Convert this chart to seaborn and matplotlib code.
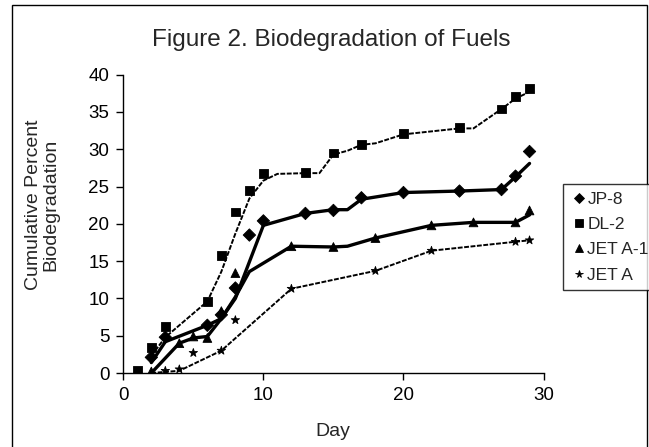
import matplotlib
matplotlib.use("Agg")
import matplotlib.pyplot as plt
from matplotlib.patches import Rectangle
import seaborn as sns
import pandas as pd

# Measured points (markers)
fuels = ["JP-8", "DL-2", "JET A-1", "JET A"]

jp8_days = [2, 3, 6, 7, 8, 9, 10, 13, 15, 17, 20, 24, 27, 28, 29]
jp8_vals = [2.1, 4.8, 6.4, 7.8, 11.4, 18.5, 20.4, 21.4, 21.8, 23.5, 24.2, 24.4, 24.6, 26.4, 29.7]

dl2_days = [1, 2, 3, 6, 7, 8, 9, 10, 13, 15, 17, 20, 24, 27, 28, 29]
dl2_vals = [0.3, 3.4, 6.2, 9.6, 15.8, 21.6, 24.5, 26.8, 26.9, 29.5, 30.6, 32.1, 32.9, 35.4, 37.1, 38.2]

jeta1_days = [2, 4, 5, 6, 7, 8, 12, 15, 18, 22, 25, 28, 29]
jeta1_vals = [0.2, 4.0, 4.9, 4.7, 8.3, 13.4, 17.0, 16.9, 18.1, 19.8, 20.2, 20.2, 21.8]

jeta_days = [3, 4, 5, 7, 8, 12, 18, 22, 28, 29]
jeta_vals = [0.3, 0.5, 2.7, 3.0, 7.1, 11.3, 13.7, 16.4, 17.6, 17.8]

# Trend lines as drawn in the chart
jp8_line_days = [2, 3, 6, 7, 8, 10, 13, 15, 16, 17, 20, 24, 27, 28, 29]
jp8_line_vals = [1.4, 4.2, 6.4, 7.3, 10.0, 19.8, 21.4, 21.9, 21.9, 23.3, 24.2, 24.4, 24.6, 26.3, 28.1]

dl2_line_days = [2, 3, 6, 7, 8, 9, 10, 11, 13, 14, 15, 16, 17, 18, 20, 24, 25, 27, 28, 29]
dl2_line_vals = [2.3, 4.8, 9.6, 13.6, 18.7, 23.4, 25.8, 26.7, 26.8, 26.8, 29.3, 29.8, 30.6, 30.8,
                 32.0, 32.8, 32.8, 35.4, 36.8, 37.7]

jeta1_line_days = [2, 4, 5, 6, 7, 8, 9, 12, 15, 16, 18, 22, 25, 28, 29]
jeta1_line_vals = [0.0, 4.0, 4.7, 4.9, 7.3, 10.2, 13.6, 17.0, 16.9, 17.0, 18.1, 19.8, 20.2, 20.2, 21.2]

jeta_line_days = [2, 4, 7, 12, 18, 22, 28, 29]
jeta_line_vals = [0.0, 0.3, 3.0, 11.3, 13.7, 16.4, 17.6, 17.8]

yticks = [0, 5, 10, 15, 20, 25, 30, 35, 40]
xticks = [0, 10, 20, 30]

pts = pd.concat([
    pd.DataFrame({"Day": jp8_days, "Value": jp8_vals, "Fuel": "JP-8"}),
    pd.DataFrame({"Day": dl2_days, "Value": dl2_vals, "Fuel": "DL-2"}),
    pd.DataFrame({"Day": jeta1_days, "Value": jeta1_vals, "Fuel": "JET A-1"}),
    pd.DataFrame({"Day": jeta_days, "Value": jeta_vals, "Fuel": "JET A"}),
], ignore_index=True)

lines = pd.concat([
    pd.DataFrame({"Day": jp8_line_days, "Value": jp8_line_vals, "Fuel": "JP-8"}),
    pd.DataFrame({"Day": dl2_line_days, "Value": dl2_line_vals, "Fuel": "DL-2"}),
    pd.DataFrame({"Day": jeta1_line_days, "Value": jeta1_line_vals, "Fuel": "JET A-1"}),
    pd.DataFrame({"Day": jeta_line_days, "Value": jeta_line_vals, "Fuel": "JET A"}),
], ignore_index=True)

sns.set_style("white")
plt.rcParams["font.family"] = ["Liberation Sans", "DejaVu Sans"]

fig = plt.figure(figsize=(6.49, 4.47), dpi=100)
ax = fig.add_axes([0.19, 0.1655, 0.6475, 0.6674])

sns.lineplot(data=lines, x="Day", y="Value", style="Fuel", size="Fuel",
             sizes={"JP-8": 2.4, "DL-2": 1.4, "JET A-1": 2.4, "JET A": 1.4},
             dashes={"JP-8": "", "DL-2": (2.5, 0.8), "JET A-1": "", "JET A": (2.5, 0.8)},
             color="black", estimator=None, sort=True, legend=False, ax=ax)

sns.scatterplot(data=pts, x="Day", y="Value", style="Fuel", style_order=fuels,
                markers={"JP-8": "D", "DL-2": "s", "JET A-1": "^", "JET A": "*"},
                color="black", edgecolor="black", s=40, linewidth=0.6, ax=ax, zorder=3)

handles, labels = ax.get_legend_handles_labels()
ax.get_legend().remove()
for h in handles:
    h.set_markersize(5.5)
fig.legend(handles, labels, loc="upper left", bbox_to_anchor=(563 / 649, 1 - 184 / 447),
           frameon=True, fancybox=False, edgecolor="black", fontsize=12.5,
           handletextpad=0.05, handlelength=0.9, labelspacing=0.58, borderpad=0.45,
           borderaxespad=0)

ax.set_xlim(0, 30)
ax.set_ylim(0, 40)
ax.set_xticks(xticks)
ax.set_yticks(yticks)
ax.set_xlabel("")
ax.set_ylabel("")
ax.tick_params(axis="both", direction="out", length=5, width=1, labelsize=13.5,
               colors="black", bottom=True, left=True, pad=5)
for side in ["top", "right"]:
    ax.spines[side].set_visible(False)
for side in ["left", "bottom"]:
    ax.spines[side].set_color("black")
    ax.spines[side].set_linewidth(1)

fig.text(331 / 649, 1 - 40 / 447, "Figure 2. Biodegradation of Fuels",
         ha="center", va="center", fontsize=17.5)
fig.text(333 / 649, 1 - 432 / 447, "Day", ha="center", va="center", fontsize=14)
fig.text(42 / 649, 1 - 205 / 447, "Cumulative Percent\nBiodegradation", rotation=90,
         ha="center", va="center", fontsize=14, linespacing=1.0)

fig.patches.append(Rectangle((12 / 649, -0.02), (647 - 12) / 649, 1.02 - 5 / 447,
                             transform=fig.transFigure, fill=False,
                             edgecolor="black", linewidth=1))

fig.savefig("out.png", dpi=100)
